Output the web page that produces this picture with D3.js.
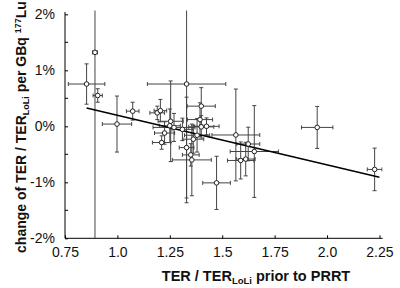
<!DOCTYPE html>
<html>
<head>
<meta charset="utf-8">
<script src="https://cdn.jsdelivr.net/npm/d3@7"></script>
<style>
  html, body { margin: 0; padding: 0; background: #fff; }
  svg { display: block; font-family: "Liberation Sans", Arial, sans-serif; }
</style>
</head>
<body>
<div id="chart"></div>
<script>
// values: TER ratio, change (%), and their error half-widths
const terRatio = [0.853, 0.893, 0.906, 0.998, 1.073, 1.19, 1.205, 1.33, 1.254, 1.40,
                  1.394, 1.40, 1.425, 1.225, 1.211, 1.25, 1.27, 1.31, 1.33, 1.35,
                  1.355, 1.362, 1.38, 1.565, 1.624, 1.653, 1.588, 1.612, 1.473, 1.953, 2.227];
const changePct = [0.755, 1.32, 0.55, 0.04, 0.27, 0.24, 0.28, 0.755, 0.09, 0.36,
                   0.12, -0.01, 0.0, -0.12, -0.29, 0.01, -0.02, -0.055, -0.38, -0.51,
                   -0.60, -0.23, -0.16, -0.155, -0.316, -0.45, -0.61, -0.585, -1.01, -0.02, -0.77];
const terErr = [0.087, 0.012, 0.022, 0.07, 0.03, 0.035, 0.03, 0.187, 0.06, 0.067,
                0.06, 0.06, 0.06, 0.048, 0.044, 0.05, 0.1, 0.05, 0.035, 0.04,
                0.093, 0.05, 0.06, 0.114, 0.055, 0.115, 0.063, 0.045, 0.066, 0.075, 0.035];
const changeErr = [0.36, 3.5, 0.12, 0.5, 0.16, 0.12, 0.2, 2.12, 0.72, 0.33,
                   0.3, 0.2, 0.15, 0.2, 0.12, 0.3, 0.25, 0.2, 0.9, 0.2,
                   0.64, 0.25, 0.3, 0.82, 0.3, 0.82, 0.33, 0.3, 0.475, 0.375, 0.38];

// regression line end points
const fitX = [0.853, 2.25];
const fitY = [0.327, -0.911];

const xTicks = [0.75, 1.0, 1.25, 1.5, 1.75, 2.0, 2.25];
const xTickLabels = ["0.75", "1.0", "1.25", "1.5", "1.75", "2.0", "2.25"];
const yMajor = [-2, -1, 0, 1, 2];
const yMinor = [-1.5, -0.5, 0.5, 1.5];

const W = 400, H = 288;

const svg = d3.select("#chart").append("svg")
  .attr("width", W)
  .attr("height", H);

// scales
const x = d3.scaleLinear().domain([0.75, 2.265]).range([65, 382.6]);
const y = d3.scaleLinear().domain([-2, 2]).range([238.3, 14.3]);
const yTop = y(2.07);

const data = terRatio.map((v, i) => ({
  x: v, y: changePct[i], ex: terErr[i], ey: changeErr[i]
}));

svg.append("defs").append("clipPath").attr("id", "plot")
  .append("rect")
  .attr("x", x(0.75)).attr("y", yTop)
  .attr("width", x(2.265) - x(0.75)).attr("height", y(-2) - yTop);

// ===== axes =====
const xAxis = svg.append("g")
  .attr("transform", `translate(0,${y(-2)})`)
  .call(d3.axisBottom(x).tickValues(xTicks)
    .tickFormat((d, i) => xTickLabels[i])
    .tickSizeInner(-3).tickSizeOuter(0).tickPadding(9));

const yAxis = svg.append("g")
  .attr("transform", `translate(${x(0.75)},0)`)
  .call(d3.axisLeft(y).tickValues(yMajor)
    .tickFormat(d => d + "%")
    .tickSizeInner(-3).tickSizeOuter(0).tickPadding(10));

// minor ticks on y
yAxis.selectAll(".minor")
  .data(yMinor)
  .enter().append("line")
    .attr("class", "minor")
    .attr("x1", 0).attr("x2", 3)
    .attr("y1", d => y(d)).attr("y2", d => y(d))
    .attr("stroke", "#000");

// axis lines stretched a little past the domain as in the original
xAxis.select(".domain").remove();
yAxis.select(".domain").remove();
svg.append("line")
  .attr("x1", x(0.75)).attr("x2", x(2.265))
  .attr("y1", y(-2)).attr("y2", y(-2))
  .attr("stroke", "#000");
svg.append("line")
  .attr("x1", x(0.75)).attr("x2", x(0.75))
  .attr("y1", y(-2)).attr("y2", y(2.04))
  .attr("stroke", "#000");

svg.selectAll(".tick text")
  .style("font-size", "14px")
  .attr("fill", "#111");

// ===== error bars =====
const plot = svg.append("g").attr("clip-path", "url(#plot)");
const barColor = "#444";
const cap = 2;

const eb = plot.selectAll(".eb")
  .data(data)
  .enter().append("g").attr("class", "eb")
  .attr("stroke", barColor)
  .attr("stroke-width", 1);

eb.append("line")
  .attr("x1", d => x(d.x - d.ex)).attr("x2", d => x(d.x + d.ex))
  .attr("y1", d => y(d.y)).attr("y2", d => y(d.y));
eb.append("line")
  .attr("x1", d => x(d.x)).attr("x2", d => x(d.x))
  .attr("y1", d => y(d.y - d.ey)).attr("y2", d => y(d.y + d.ey));
// caps
eb.append("line")
  .attr("x1", d => x(d.x - d.ex)).attr("x2", d => x(d.x - d.ex))
  .attr("y1", d => y(d.y) - cap).attr("y2", d => y(d.y) + cap);
eb.append("line")
  .attr("x1", d => x(d.x + d.ex)).attr("x2", d => x(d.x + d.ex))
  .attr("y1", d => y(d.y) - cap).attr("y2", d => y(d.y) + cap);
eb.append("line")
  .attr("x1", d => x(d.x) - cap).attr("x2", d => x(d.x) + cap)
  .attr("y1", d => y(d.y - d.ey)).attr("y2", d => y(d.y - d.ey));
eb.append("line")
  .attr("x1", d => x(d.x) - cap).attr("x2", d => x(d.x) + cap)
  .attr("y1", d => y(d.y + d.ey)).attr("y2", d => y(d.y + d.ey));

// regression line
plot.append("line")
  .attr("x1", x(fitX[0])).attr("y1", y(fitY[0]))
  .attr("x2", x(fitX[1])).attr("y2", y(fitY[1]))
  .attr("stroke", "#000")
  .attr("stroke-width", 1.5);

// markers
plot.selectAll(".pt")
  .data(data)
  .enter().append("circle")
    .attr("class", "pt")
    .attr("cx", d => x(d.x))
    .attr("cy", d => y(d.y))
    .attr("r", 2.3)
    .attr("fill", "#fff")
    .attr("stroke", "#222")
    .attr("stroke-width", 1);

// ===== axis titles =====
const xt = svg.append("text")
  .attr("x", 256).attr("y", 281)
  .attr("text-anchor", "middle")
  .style("font-size", "14.5px")
  .style("font-weight", "bold")
  .attr("fill", "#111");
xt.append("tspan").text("TER / TER");
xt.append("tspan").attr("dy", 3).style("font-size", "9.5px").text("LoLi");
xt.append("tspan").attr("dy", -3).text(" prior to PRRT");

const yt = svg.append("text")
  .attr("transform", "rotate(-90)")
  .attr("x", -127).attr("y", 26)
  .attr("text-anchor", "middle")
  .style("font-size", "14px")
  .style("font-weight", "bold")
  .attr("fill", "#111");
yt.append("tspan").text("change of TER / TER");
yt.append("tspan").attr("dy", 3).style("font-size", "9px").text("LoLi");
yt.append("tspan").attr("dy", -3).text(" per GBq ");
yt.append("tspan").attr("dy", -5).style("font-size", "9px").text("177");
yt.append("tspan").attr("dy", 5).text("Lu");
</script>
</body>
</html>
